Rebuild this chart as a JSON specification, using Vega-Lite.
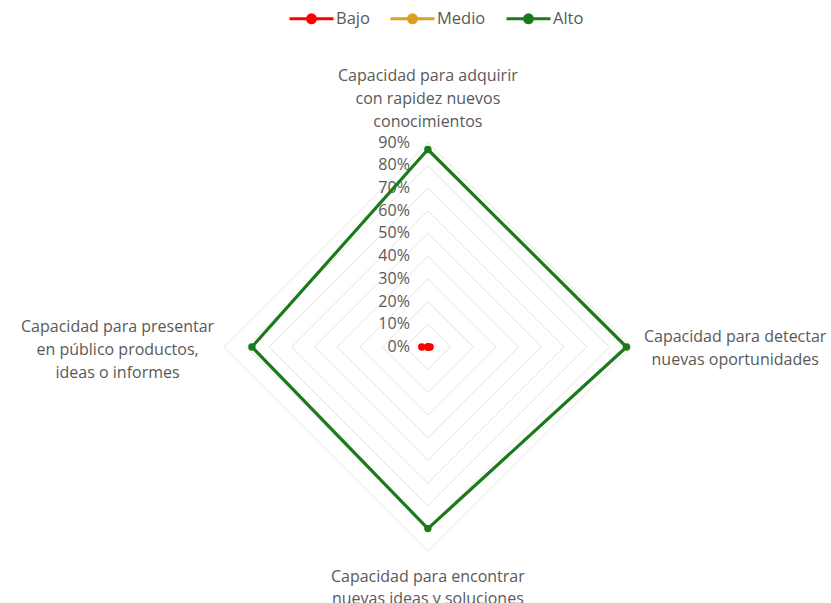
{
  "$schema": "https://vega.github.io/schema/vega-lite/v6.json",
  "width": 831,
  "height": 603,
  "autosize": {"type": "none"},
  "padding": 0,
  "background": "white",
  "config": {"view": {"stroke": null}, "font": "Open Sans"},
  "datasets": {
    "valores": [
      {"categoria": "Capacidad para adquirir con rapidez nuevos conocimientos", "serie": "Medio", "valor": 0},
      {"categoria": "Capacidad para detectar nuevas oportunidades", "serie": "Medio", "valor": 0},
      {"categoria": "Capacidad para encontrar nuevas ideas y soluciones", "serie": "Medio", "valor": 0},
      {"categoria": "Capacidad para presentar en público productos, ideas o informes", "serie": "Medio", "valor": 0},
      {"categoria": "Capacidad para adquirir con rapidez nuevos conocimientos", "serie": "Bajo", "valor": 0},
      {"categoria": "Capacidad para detectar nuevas oportunidades", "serie": "Bajo", "valor": 0.01},
      {"categoria": "Capacidad para encontrar nuevas ideas y soluciones", "serie": "Bajo", "valor": 0},
      {"categoria": "Capacidad para presentar en público productos, ideas o informes", "serie": "Bajo", "valor": 0.027},
      {"categoria": "Capacidad para adquirir con rapidez nuevos conocimientos", "serie": "Alto", "valor": 0.87},
      {"categoria": "Capacidad para detectar nuevas oportunidades", "serie": "Alto", "valor": 0.875},
      {"categoria": "Capacidad para encontrar nuevas ideas y soluciones", "serie": "Alto", "valor": 0.80},
      {"categoria": "Capacidad para presentar en público productos, ideas o informes", "serie": "Alto", "valor": 0.775}
    ],
    "niveles": [
      {"nivel": 0}, {"nivel": 0.1}, {"nivel": 0.2}, {"nivel": 0.3}, {"nivel": 0.4},
      {"nivel": 0.5}, {"nivel": 0.6}, {"nivel": 0.7}, {"nivel": 0.8}, {"nivel": 0.9}
    ],
    "ejes": [
      {"categoria": "Capacidad para adquirir con rapidez nuevos conocimientos", "lineas": ["Capacidad para adquirir", "con rapidez nuevos", "conocimientos"]},
      {"categoria": "Capacidad para detectar nuevas oportunidades", "lineas": ["Capacidad para detectar", "nuevas oportunidades"]},
      {"categoria": "Capacidad para encontrar nuevas ideas y soluciones", "lineas": ["Capacidad para encontrar", "nuevas ideas y soluciones"]},
      {"categoria": "Capacidad para presentar en público productos, ideas o informes", "lineas": ["Capacidad para presentar", "en público productos,", "ideas o informes"]}
    ]
  },
  "encoding": {
    "x": {"field": "x", "type": "quantitative", "scale": {"domain": [-1.885, 1.776], "nice": false, "zero": false}, "axis": null},
    "y": {"field": "y", "type": "quantitative", "scale": {"domain": [-1.1278, 1.5286], "nice": false, "zero": false}, "axis": null}
  },
  "layer": [
    {
      "data": {"name": "niveles"},
      "transform": [
        {"filter": "datum.nivel > 0"},
        {"calculate": "[0,1,2,3]", "as": "e"},
        {"flatten": ["e"]},
        {"calculate": "datum.nivel*[0,1,0,-1][datum.e]", "as": "x"},
        {"calculate": "datum.nivel*[1,0,-1,0][datum.e]", "as": "y"},
        {"calculate": "datum.nivel*[0,1,0,-1][(datum.e+1)%4]", "as": "x2"},
        {"calculate": "datum.nivel*[1,0,-1,0][(datum.e+1)%4]", "as": "y2"}
      ],
      "mark": {"type": "rule", "color": "#e4e4e4", "strokeWidth": 1},
      "encoding": {"x2": {"field": "x2"}, "y2": {"field": "y2"}}
    },
    {
      "data": {"name": "niveles"},
      "transform": [
        {"calculate": "0", "as": "x"},
        {"calculate": "datum.nivel", "as": "y"}
      ],
      "mark": {"type": "text", "align": "right", "baseline": "middle", "dx": -18, "fontSize": 16, "color": "#595959"},
      "encoding": {"text": {"field": "nivel", "type": "quantitative", "format": ".0%"}}
    },
    {
      "data": {"name": "ejes"},
      "transform": [
        {"filter": "datum.categoria === 'Capacidad para adquirir con rapidez nuevos conocimientos'"},
        {"calculate": "0", "as": "x"},
        {"calculate": "0.9", "as": "y"}
      ],
      "mark": {"type": "text", "align": "center", "baseline": "middle", "dy": -67, "fontSize": 16, "lineHeight": 23, "color": "#595959"},
      "encoding": {"text": {"field": "lineas", "type": "nominal"}}
    },
    {
      "data": {"name": "ejes"},
      "transform": [
        {"filter": "datum.categoria === 'Capacidad para detectar nuevas oportunidades'"},
        {"calculate": "0.9", "as": "x"},
        {"calculate": "0", "as": "y"}
      ],
      "mark": {"type": "text", "align": "center", "baseline": "middle", "dx": 103, "dy": -10, "fontSize": 16, "lineHeight": 23, "color": "#595959"},
      "encoding": {"text": {"field": "lineas", "type": "nominal"}}
    },
    {
      "data": {"name": "ejes"},
      "transform": [
        {"filter": "datum.categoria === 'Capacidad para encontrar nuevas ideas y soluciones'"},
        {"calculate": "0", "as": "x"},
        {"calculate": "-0.9", "as": "y"}
      ],
      "mark": {"type": "text", "align": "center", "baseline": "middle", "dy": 26, "fontSize": 16, "lineHeight": 22, "color": "#595959"},
      "encoding": {"text": {"field": "lineas", "type": "nominal"}}
    },
    {
      "data": {"name": "ejes"},
      "transform": [
        {"filter": "datum.categoria === 'Capacidad para presentar en público productos, ideas o informes'"},
        {"calculate": "-0.9", "as": "x"},
        {"calculate": "0", "as": "y"}
      ],
      "mark": {"type": "text", "align": "center", "baseline": "middle", "dx": -106, "dy": -20, "fontSize": 16, "lineHeight": 23, "color": "#595959"},
      "encoding": {"text": {"field": "lineas", "type": "nominal"}}
    },
    {
      "data": {"name": "valores"},
      "transform": [
        {"calculate": "indexof(['Capacidad para adquirir con rapidez nuevos conocimientos','Capacidad para detectar nuevas oportunidades','Capacidad para encontrar nuevas ideas y soluciones','Capacidad para presentar en público productos, ideas o informes'], datum.categoria)", "as": "idx"},
        {"calculate": "indexof(['Medio','Bajo','Alto'], datum.serie)", "as": "z"},
        {"calculate": "datum.valor*[0,1,0,-1][datum.idx]", "as": "x"},
        {"calculate": "datum.valor*[1,0,-1,0][datum.idx]", "as": "y"},
        {
          "window": [
            {"op": "lead", "field": "x", "as": "xn"},
            {"op": "lead", "field": "y", "as": "yn"},
            {"op": "first_value", "field": "x", "as": "x0"},
            {"op": "first_value", "field": "y", "as": "y0"}
          ],
          "groupby": ["serie"],
          "sort": [{"field": "idx", "order": "ascending"}],
          "frame": [null, null]
        },
        {"calculate": "isValid(datum.xn) ? datum.xn : datum.x0", "as": "x2"},
        {"calculate": "isValid(datum.yn) ? datum.yn : datum.y0", "as": "y2"}
      ],
      "mark": {"type": "rule", "strokeWidth": 3.2, "strokeCap": "round"},
      "encoding": {
        "x2": {"field": "x2"},
        "y2": {"field": "y2"},
        "order": {"field": "z", "type": "quantitative"},
        "color": {
          "field": "serie",
          "type": "nominal",
          "scale": {"domain": ["Bajo", "Medio", "Alto"], "range": ["#ff0000", "#d9a21e", "#1b7b1b"]},
          "legend": {
            "title": null,
            "orient": "none",
            "legendX": 288,
            "legendY": -5,
            "direction": "horizontal",
            "padding": 0,
            "columnPadding": 14,
            "symbolType": "M-1,0H1M0.18,0A0.18,0.18 0 1 1 -0.18,0A0.18,0.18 0 1 1 0.18,0Z",
            "symbolSize": 1936,
            "symbolStrokeWidth": 3,
            "labelFontSize": 16.5,
            "labelColor": "#595959",
            "labelOffset": 1,
            "encode": {
              "symbols": {"update": {"fill": {"scale": "color", "field": "value"}, "stroke": {"scale": "color", "field": "value"}}}
            }
          }
        }
      }
    },
    {
      "data": {"name": "valores"},
      "transform": [
        {"calculate": "indexof(['Capacidad para adquirir con rapidez nuevos conocimientos','Capacidad para detectar nuevas oportunidades','Capacidad para encontrar nuevas ideas y soluciones','Capacidad para presentar en público productos, ideas o informes'], datum.categoria)", "as": "idx"},
        {"calculate": "indexof(['Medio','Bajo','Alto'], datum.serie)", "as": "z"},
        {"calculate": "datum.valor*[0,1,0,-1][datum.idx]", "as": "x"},
        {"calculate": "datum.valor*[1,0,-1,0][datum.idx]", "as": "y"}
      ],
      "mark": {"type": "point", "filled": true, "size": 55, "opacity": 1},
      "encoding": {
        "order": {"field": "z", "type": "quantitative"},
        "color": {"field": "serie", "type": "nominal", "legend": null}
      }
    }
  ]
}
